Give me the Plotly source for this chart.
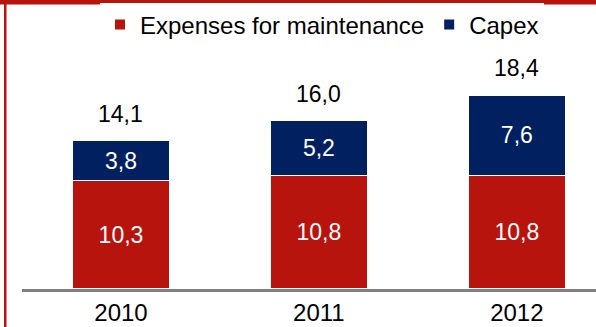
import plotly.graph_objects as go

years = ["2010", "2011", "2012"]
maintenance = [10.3, 10.8, 10.8]
capex = [3.8, 5.2, 7.6]
totals = [14.1, 16.0, 18.4]

RED = "#B8140E"
NAVY = "#002060"
FONT = "Arial, Liberation Sans, sans-serif"
FS = 24
FS_IN = 23

def fmt(v):
    return f"{v:.1f}".replace(".", ",")

fig = go.Figure()
fig.add_trace(go.Bar(
    x=years, y=maintenance, name="Expenses for maintenance",
    marker=dict(color=RED, line=dict(color="white", width=1.5)),
    text=[fmt(v) for v in maintenance], textposition="inside",
    insidetextanchor="middle", textfont=dict(color="white", size=FS_IN, family=FONT),
    showlegend=False,
))
fig.add_trace(go.Bar(
    x=years, y=capex, name="Capex",
    marker=dict(color=NAVY, line=dict(color="white", width=1.5)),
    text=[fmt(v) for v in capex], textposition="inside",
    insidetextanchor="middle", textfont=dict(color="white", size=FS_IN, family=FONT),
    showlegend=False,
))
# legend entries
fig.add_trace(go.Scatter(x=[None], y=[None], mode="markers", name="Expenses for maintenance",
                         marker=dict(symbol="square", size=10, color=RED)))
fig.add_trace(go.Scatter(x=[None], y=[None], mode="markers", name="Capex",
                         marker=dict(symbol="square", size=10, color=NAVY)))

for i, t in enumerate(totals):
    fig.add_annotation(x=i, y=t, text=fmt(t), showarrow=False, yanchor="middle",
                       yshift=27, font=dict(size=FS_IN, color="black", family=FONT))

L, T, B = 22, 40, 38
W, H = 596, 327
pw = W - L
ph = H - T - B

def px2x(px):
    return (px - L) / pw

def py2y(py):
    return (H - B - py) / ph

fig.add_shape(type="rect", xref="paper", yref="paper",
              x0=px2x(0), x1=px2x(W), y0=py2y(4.5), y1=py2y(0),
              fillcolor=RED, line=dict(width=0))
fig.add_shape(type="rect", xref="paper", yref="paper",
              x0=px2x(4), x1=px2x(6.5), y0=py2y(H), y1=py2y(0),
              fillcolor=RED, line=dict(width=0))

fig.update_layout(
    width=W, height=H, barmode="stack", bargap=0.51,
    margin=dict(l=L, r=0, t=T, b=B),
    paper_bgcolor="white", plot_bgcolor="white",
    font=dict(family=FONT, size=FS, color="black"),
    legend=dict(orientation="h", x=px2x(100), xanchor="left", y=py2y(25), yanchor="middle",
                font=dict(size=FS), itemwidth=30, tracegroupgap=0, traceorder="normal"),
    xaxis=dict(type="category", range=[-0.5, 2.4], showline=True, linecolor="#808080", linewidth=3,
               showgrid=False, ticks="", tickfont=dict(size=FS, color="black"), fixedrange=True),
    yaxis=dict(range=[0, ph / 10.53], visible=False, showgrid=False, fixedrange=True),
)

fig.write_html("out.html")
